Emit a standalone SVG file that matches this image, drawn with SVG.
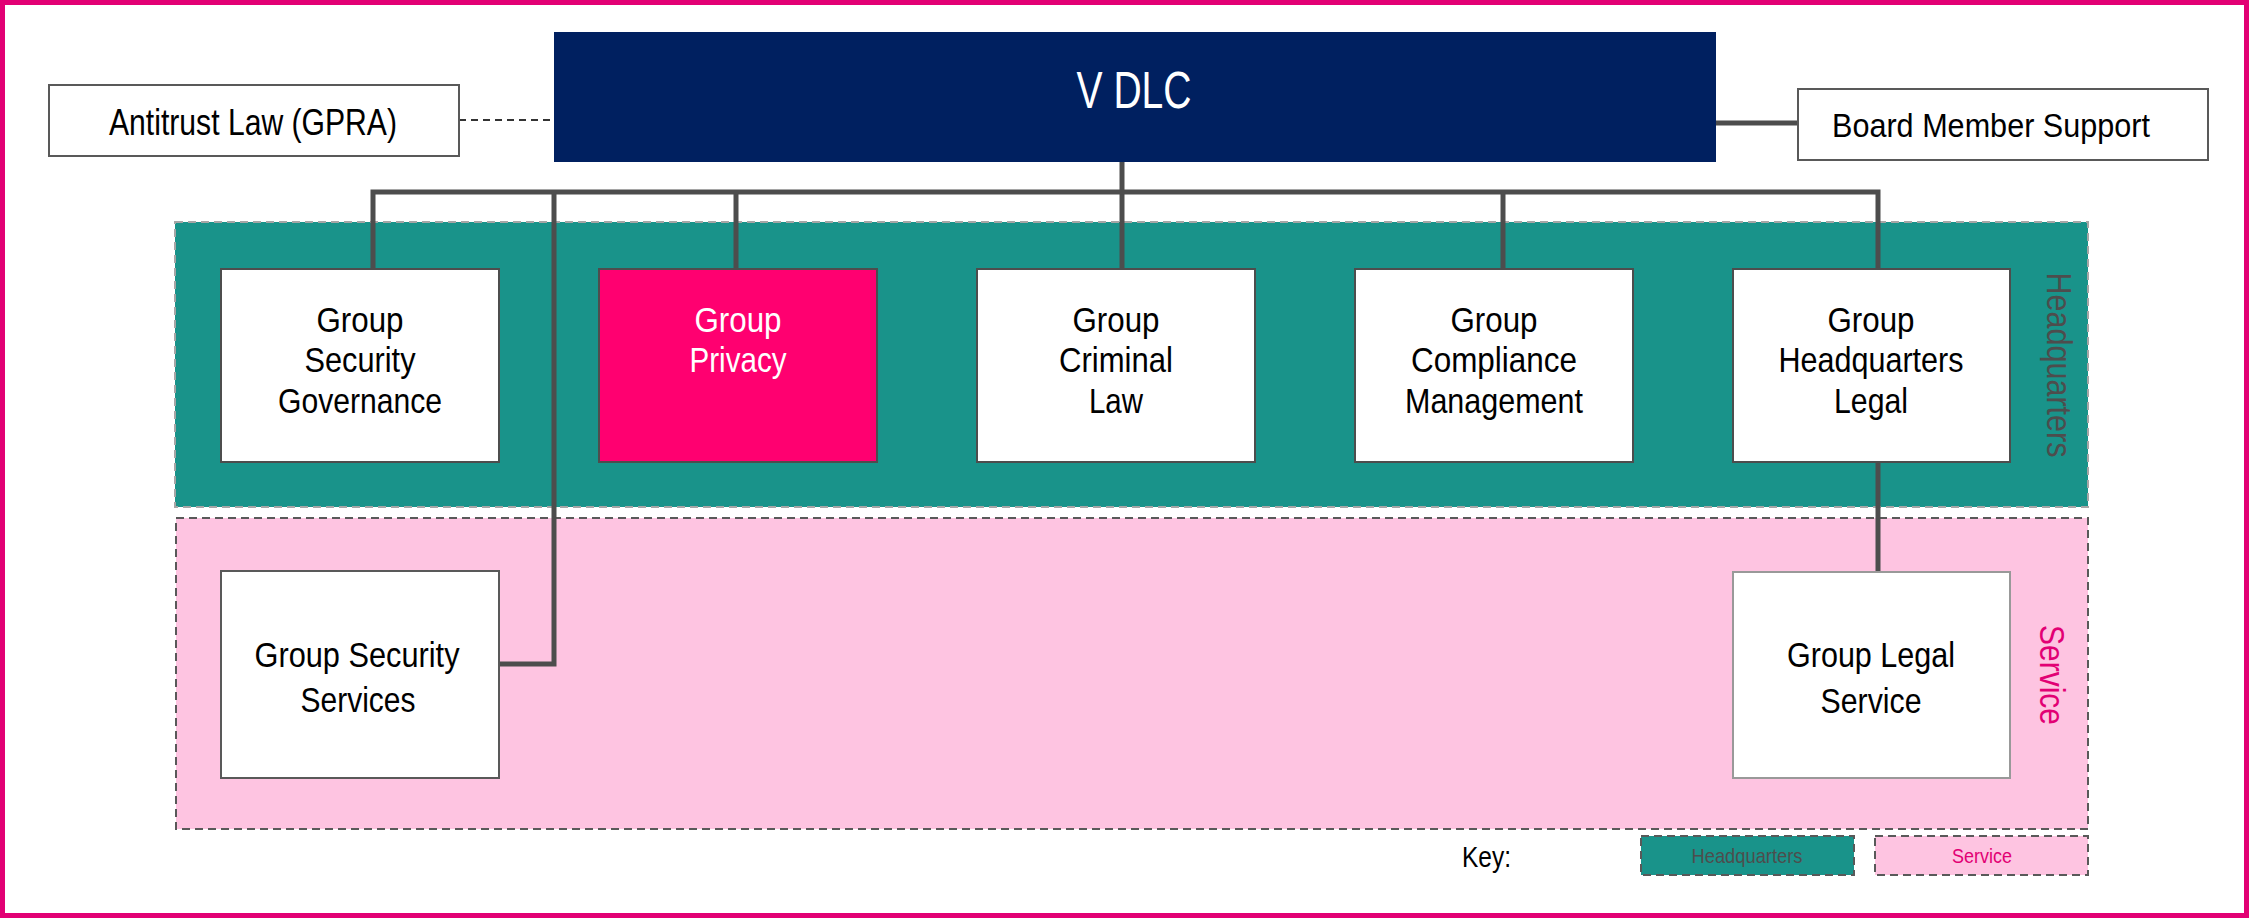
<svg xmlns="http://www.w3.org/2000/svg" width="2249" height="918" viewBox="0 0 2249 918">
<style>
  text { font-family: "Liberation Sans", Arial, sans-serif; }
  .node { fill: #ffffff; stroke: #4d4d4d; stroke-width: 2; }
  .t { font-size: 35px; fill: #000000; text-anchor: middle; }
  .conn { fill: none; stroke: #4d4d4d; stroke-width: 5; }
  .hq { fill: #19938a; }
  .svc { fill: #fec4e1; }
</style>
<rect x="0" y="0" width="2249" height="918" fill="#ffffff"/>
<rect id="frame" x="2.5" y="2.5" width="2244" height="913" fill="none" stroke="#e20074" stroke-width="5"/>

<g id="region-headquarters">
  <rect class="hq" x="175" y="222" width="1913" height="285" stroke="#a6a6a6" stroke-width="2" stroke-dasharray="8 5"/>
  <text transform="translate(2047 365) rotate(90)" x="0" y="0" font-size="35" fill="#4d4d4d" text-anchor="middle" textLength="185" lengthAdjust="spacingAndGlyphs">Headquarters</text>
</g>
<g id="region-service">
  <rect class="svc" x="176" y="518" width="1912" height="311" stroke="#595959" stroke-width="2" stroke-dasharray="8 5"/>
  <text transform="translate(2040 675) rotate(90)" x="0" y="0" font-size="35" fill="#e20074" text-anchor="middle" textLength="100" lengthAdjust="spacingAndGlyphs">Service</text>
</g>

<g id="connectors">
  <path class="conn" d="M1122 162 V269"/>
  <path class="conn" d="M373 269 V192 H1878 V269"/>
  <path class="conn" d="M736 192 V269"/>
  <path class="conn" d="M1503 192 V269"/>
  <path class="conn" d="M554 192 V664 H499"/>
  <path class="conn" d="M1878 462 V572"/>
  <path class="conn" d="M1716 123 H1798"/>
  <path d="M459 120 H554" fill="none" stroke="#333333" stroke-width="2" stroke-dasharray="7 5"/>
</g>

<g id="node-vdlc">
  <rect x="554" y="32" width="1162" height="130" fill="#002060"/>
  <text x="1134" y="108" font-size="52" fill="#ffffff" text-anchor="middle" textLength="115" lengthAdjust="spacingAndGlyphs">V DLC</text>
</g>
<g id="node-antitrust">
  <rect class="node" x="49" y="85" width="410" height="71" style="stroke:#595959"/>
  <text x="253" y="135" font-size="37" text-anchor="middle" textLength="288" lengthAdjust="spacingAndGlyphs">Antitrust Law (GPRA)</text>
</g>
<g id="node-board">
  <rect class="node" x="1798" y="89" width="410" height="71" style="stroke:#595959"/>
  <text x="1991" y="137" font-size="33" text-anchor="middle" textLength="318" lengthAdjust="spacingAndGlyphs">Board Member Support</text>
</g>

<g id="node-security-governance">
  <rect class="node" x="221" y="269" width="278" height="193"/>
  <text class="t" x="360" y="332" textLength="87" lengthAdjust="spacingAndGlyphs">Group</text>
  <text class="t" x="360" y="372" textLength="111" lengthAdjust="spacingAndGlyphs">Security</text>
  <text class="t" x="360" y="413" textLength="164" lengthAdjust="spacingAndGlyphs">Governance</text>
</g>
<g id="node-privacy">
  <rect x="599" y="269" width="278" height="193" fill="#ff0070" stroke="#4d4d4d" stroke-width="2"/>
  <text class="t" x="738" y="332" style="fill:#ffffff" textLength="87" lengthAdjust="spacingAndGlyphs">Group</text>
  <text class="t" x="738" y="372" style="fill:#ffffff" textLength="97" lengthAdjust="spacingAndGlyphs">Privacy</text>
</g>
<g id="node-criminal-law">
  <rect class="node" x="977" y="269" width="278" height="193"/>
  <text class="t" x="1116" y="332" textLength="87" lengthAdjust="spacingAndGlyphs">Group</text>
  <text class="t" x="1116" y="372" textLength="114" lengthAdjust="spacingAndGlyphs">Criminal</text>
  <text class="t" x="1116" y="413" textLength="54" lengthAdjust="spacingAndGlyphs">Law</text>
</g>
<g id="node-compliance">
  <rect class="node" x="1355" y="269" width="278" height="193"/>
  <text class="t" x="1494" y="332" textLength="87" lengthAdjust="spacingAndGlyphs">Group</text>
  <text class="t" x="1494" y="372" textLength="166" lengthAdjust="spacingAndGlyphs">Compliance</text>
  <text class="t" x="1494" y="413" textLength="178" lengthAdjust="spacingAndGlyphs">Management</text>
</g>
<g id="node-hq-legal">
  <rect class="node" x="1733" y="269" width="277" height="193"/>
  <text class="t" x="1871" y="332" textLength="87" lengthAdjust="spacingAndGlyphs">Group</text>
  <text class="t" x="1871" y="372" textLength="185" lengthAdjust="spacingAndGlyphs">Headquarters</text>
  <text class="t" x="1871" y="413" textLength="74" lengthAdjust="spacingAndGlyphs">Legal</text>
</g>
<g id="node-security-services">
  <rect class="node" x="221" y="571" width="278" height="207" style="stroke:#595959"/>
  <text class="t" x="357" y="667" textLength="205" lengthAdjust="spacingAndGlyphs">Group Security</text>
  <text class="t" x="358" y="712" textLength="115" lengthAdjust="spacingAndGlyphs">Services</text>
</g>
<g id="node-legal-service">
  <rect class="node" x="1733" y="572" width="277" height="206" style="stroke:#999999"/>
  <text class="t" x="1871" y="667" textLength="168" lengthAdjust="spacingAndGlyphs">Group Legal</text>
  <text class="t" x="1871" y="713" textLength="101" lengthAdjust="spacingAndGlyphs">Service</text>
</g>

<g id="key">
  <text x="1462" y="867" font-size="29" fill="#000000" textLength="49" lengthAdjust="spacingAndGlyphs">Key:</text>
  <rect class="hq" x="1641" y="836" width="213" height="39" stroke="#595959" stroke-width="2" stroke-dasharray="8 5"/>
  <text x="1747" y="863" font-size="21" fill="#4d4d4d" text-anchor="middle" textLength="111" lengthAdjust="spacingAndGlyphs">Headquarters</text>
  <rect class="svc" x="1875" y="836" width="213" height="39" stroke="#595959" stroke-width="2" stroke-dasharray="8 5"/>
  <text x="1982" y="863" font-size="21" fill="#e20074" text-anchor="middle" textLength="60" lengthAdjust="spacingAndGlyphs">Service</text>
</g>
</svg>
